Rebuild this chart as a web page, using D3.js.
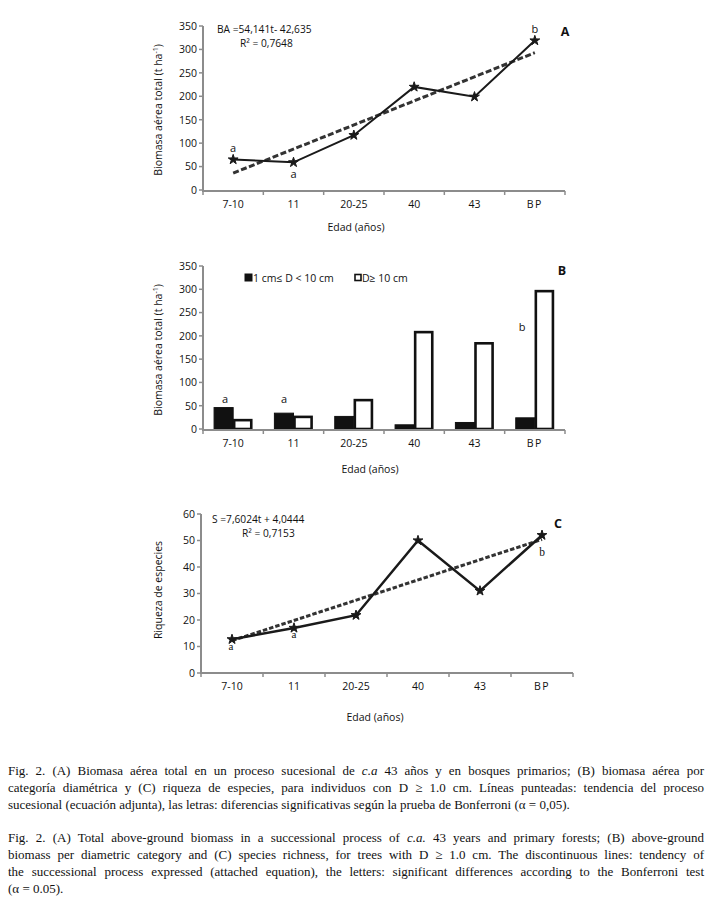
<!DOCTYPE html>
<html><head><meta charset="utf-8">
<script src="https://cdn.jsdelivr.net/npm/d3@7"></script>
<style>
body{margin:0;background:#fff;width:711px;height:904px;overflow:hidden;position:relative}
svg{position:absolute;left:0;top:0}
.cap{position:absolute;left:8px;width:696px;font-family:"Liberation Serif","Times New Roman",serif;font-size:13px;color:#111;white-space:nowrap;line-height:17px}
.cap .j{text-align:justify;text-align-last:justify;white-space:normal}
</style></head><body>
<svg id="chart" width="711" height="904"></svg>
<script>
const categories = ["7-10","11","20-25","40","43","BP"];
// Panel A: total above-ground biomass (t/ha)
const biomassTotal = [65, 59, 117, 220, 199, 319];
const biomassTrendEnds = [36, 293]; // read at 7-10 and BP
const lettersA = [{cat:"7-10",text:"a",pos:"above"},{cat:"11",text:"a",pos:"below"},{cat:"BP",text:"b",pos:"above"}];
// Panel B: biomass by diameter class
const seriesB = ["1 cm≤ D < 10 cm","D≥ 10 cm"];
const biomassSmall = [46, 34, 27, 9, 14, 24];
const biomassLarge = [19, 26, 62, 208, 184, 296];
// Panel C: species richness
const richness = [12.7, 17, 21.8, 50, 31, 52];
const richnessTrendEnds = [12.2, 50.4];
const ticksBiomass = [0,50,100,150,200,250,300,350];
const ticksRich = [0,10,20,30,40,50,60];

const svg = d3.select("#chart");
const FONT = "'Open Sans', sans-serif";
const AX = "#8c8c8c";

function axes(g, x, y, ticks, axisY, x0, x1, yTop){
  g.append("line").attr("x1",x0).attr("x2",x0).attr("y1",yTop).attr("y2",axisY+1)
    .attr("stroke",AX).attr("stroke-width",2);
  ticks.forEach(t=>{
    g.append("line").attr("x1",x0-4).attr("x2",x0).attr("y1",y(t)).attr("y2",y(t)).attr("stroke",AX).attr("stroke-width",1.5);
    g.append("text").attr("x",x0-6).attr("y",y(t)+3.8).attr("text-anchor","end")
      .attr("font-family",FONT).attr("font-size",10.5).attr("fill","#111").text(t);
  });
  g.append("line").attr("x1",x0-1).attr("x2",x1).attr("y1",axisY).attr("y2",axisY)
    .attr("stroke",AX).attr("stroke-width",2);
  const bounds = categories.map(c=>x(c)).concat([x1]);
  bounds.forEach(b=>{
    g.append("line").attr("x1",b).attr("x2",b).attr("y1",axisY).attr("y2",axisY+4).attr("stroke",AX).attr("stroke-width",1.5);
  });
  categories.forEach(c=>{
    g.append("text").attr("x",x(c)+x.bandwidth()/2).attr("y",axisY+17).attr("text-anchor","middle")
      .attr("font-family",FONT).attr("font-size",10.5).attr("fill","#111")
      .attr("letter-spacing", c==="BP"?1.5:0).text(c);
  });
}
function yLabel(g, text, cx, cy){
  g.append("text").attr("transform",`translate(${cx},${cy}) rotate(-90)`).attr("text-anchor","middle")
    .attr("font-family",FONT).attr("font-size",10.5).attr("fill","#111").text(text);
}
function yLabelBiomass(g, cx, cy){
  const t = g.append("text").attr("transform",`translate(${cx},${cy}) rotate(-90)`).attr("text-anchor","middle")
    .attr("font-family",FONT).attr("font-size",10.5).attr("fill","#111");
  t.append("tspan").text("Biomasa aérea total (t ha");
  t.append("tspan").attr("dy",-4).attr("font-size",7).text("-1");
  t.append("tspan").attr("dy",4).text(")");
}
function txt(g, s, x, y, opts={}){
  return g.append("text").attr("x",x).attr("y",y).attr("font-family",opts.family||FONT)
    .attr("font-size",opts.size||10.5).attr("font-weight",opts.bold?"bold":"normal")
    .attr("text-anchor",opts.anchor||"start").attr("fill","#111").text(s);
}
const star = d3.symbol().type(d3.symbolStar).size(30);

// ---------- Panel A ----------
{
  const g = svg.append("g");
  const x = d3.scaleBand().domain(categories).range([203,565]);
  const y = d3.scaleLinear().domain([0,350]).range([190,26]);
  axes(g, x, y, ticksBiomass, 191, 203, 565, 26);
  const cx = c=>x(c)+x.bandwidth()/2;
  g.append("path").attr("d", d3.line()([[cx(categories[0]),y(biomassTrendEnds[0])],[cx(categories[5]),y(biomassTrendEnds[1])]]))
    .attr("stroke","#333").attr("stroke-width",3).attr("stroke-dasharray","6,2.5").attr("fill","none");
  g.append("path").attr("d", d3.line().x((d,i)=>cx(categories[i])).y(d=>y(d))(biomassTotal))
    .attr("stroke","#1a1a1a").attr("stroke-width",2).attr("fill","none");
  biomassTotal.forEach((v,i)=>g.append("path").attr("d",star).attr("transform",`translate(${cx(categories[i])},${y(v)})`).attr("fill","#1a1a1a").attr("stroke","#1a1a1a").attr("stroke-width",1));
  lettersA.forEach(l=>{
    const i = categories.indexOf(l.cat);
    txt(g, l.text, cx(l.cat), y(biomassTotal[i]) + (l.pos==="above"?-8:16), {anchor:"middle", size:11});
  });
  txt(g,"BA =54,141t- 42,635",217,33,{size:10.2});
  txt(g,"R² = 0,7648",240,47,{size:10.2});
  txt(g,"A",565,36,{bold:true,size:12.5,anchor:"middle"});
  yLabelBiomass(g, 162, 110);
  txt(g,"Edad (años)",356,231,{anchor:"middle"});
}

// ---------- Panel B ----------
{
  const g = svg.append("g");
  const x = d3.scaleBand().domain(categories).range([203,565]);
  const xs = d3.scaleBand().domain(seriesB).range([0,x.bandwidth()]).paddingOuter(0.58);
  const y = d3.scaleLinear().domain([0,350]).range([429,266]);
  const vals = [biomassSmall, biomassLarge];
  vals.forEach((arr,s)=>{
    arr.forEach((v,i)=>{
      g.append("rect").attr("x",x(categories[i])+xs(seriesB[s])+(s?1:0)).attr("y",y(v))
        .attr("width",xs.bandwidth()-(s?2:0)).attr("height",y(0)-y(v))
        .attr("fill",s?"#fff":"#111").attr("stroke","#111").attr("stroke-width",s?2.6:1);
    });
  });
  axes(g, x, y, ticksBiomass, 430, 203, 565, 266);
  txt(g,"a",225,403,{anchor:"middle",size:11});
  txt(g,"a",284,403,{anchor:"middle",size:11});
  txt(g,"b",522,331,{anchor:"middle",size:11});
  g.append("rect").attr("x",245).attr("y",274).attr("width",7).attr("height",7).attr("fill","#111").attr("stroke","#111");
  txt(g, seriesB[0], 253, 281.5);
  g.append("rect").attr("x",355).attr("y",274.5).attr("width",6).attr("height",6).attr("fill","#fff").attr("stroke","#111").attr("stroke-width",1.6);
  txt(g, seriesB[1], 362, 281.5);
  txt(g,"B",562,275,{bold:true,size:12.5,anchor:"middle"});
  yLabelBiomass(g, 162, 350);
  txt(g,"Edad (años)",370,473,{anchor:"middle"});
}

// ---------- Panel C ----------
{
  const g = svg.append("g");
  const x = d3.scaleBand().domain(categories).range([201,573]);
  const y = d3.scaleLinear().domain([0,60]).range([673,514]);
  axes(g, x, y, ticksRich, 673, 201, 573, 514);
  const cx = c=>x(c)+x.bandwidth()/2;
  g.append("path").attr("d", d3.line()([[cx(categories[0]),y(richnessTrendEnds[0])],[cx(categories[5]),y(richnessTrendEnds[1])]]))
    .attr("stroke","#333").attr("stroke-width",3).attr("stroke-dasharray","4.5,2").attr("fill","none");
  g.append("path").attr("d", d3.line().x((d,i)=>cx(categories[i])).y(d=>y(d))(richness))
    .attr("stroke","#1a1a1a").attr("stroke-width",2.5).attr("fill","none");
  richness.forEach((v,i)=>g.append("path").attr("d",star).attr("transform",`translate(${cx(categories[i])},${y(v)})`).attr("fill","#1a1a1a").attr("stroke","#1a1a1a").attr("stroke-width",1));
  txt(g,"a",231,650,{anchor:"middle",size:11,family:"'Liberation Serif', serif"});
  txt(g,"a",294,638,{anchor:"middle",size:11,family:"'Liberation Serif', serif"});
  txt(g,"b",542,556,{anchor:"middle",size:11.5,family:"'Liberation Serif', serif"});
  txt(g,"S =7,6024t + 4,0444",212,523,{size:10.2});
  txt(g,"R² = 0,7153",242,537,{size:10.2});
  txt(g,"C",558,528,{bold:true,size:12.5,anchor:"middle"});
  yLabel(g,"Riqueza de especies",162,590);
  txt(g,"Edad (años)",375,721,{anchor:"middle"});
}

// ---------- Caption ----------
const capES = [
  ["Fig. 2. (A) Biomasa aérea total en un proceso sucesional de <i>c.a</i> 43 años y en bosques primarios; (B) biomasa aérea por", true],
  ["categoría diamétrica y (C) riqueza de especies, para individuos con D ≥ 1.0 cm. Líneas punteadas: tendencia del proceso", true],
  ["sucesional (ecuación adjunta), las letras: diferencias significativas según la prueba de Bonferroni (α = 0,05).", false]
];
const capEN = [
  ["Fig. 2. (A) Total above-ground biomass in a successional process of <i>c.a.</i> 43 years and primary forests; (B) above-ground", true],
  ["biomass per diametric category and (C) species richness, for trees with D ≥ 1.0 cm. The discontinuous lines: tendency of", true],
  ["the successional process expressed (attached equation), the letters: significant differences according to the Bonferroni test", true],
  ["(α = 0.05).", false]
];
function caption(lines, top){
  const d = d3.select("body").append("div").attr("class","cap").style("top",top+"px");
  lines.forEach(([h,j])=>d.append("div").attr("class",j?"j":"").html(h));
}
caption(capES, 762);
caption(capEN, 829);
</script>
</body></html>
